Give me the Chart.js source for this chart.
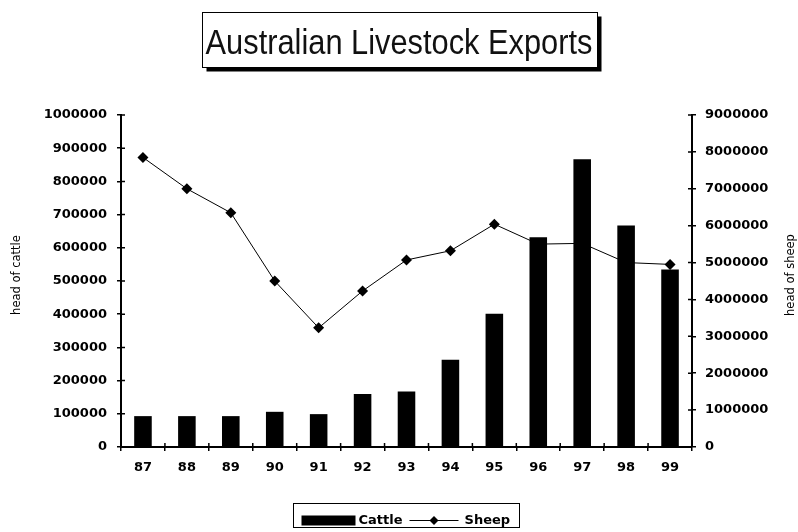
<!DOCTYPE html>
<html>
<head>
<meta charset="utf-8">
<script src="https://cdn.jsdelivr.net/npm/chart.js@4/dist/chart.umd.min.js"></script>
<style>
  html, body { margin: 0; padding: 0; background: #fff; }
  #wrap { width: 798px; height: 532px; }
</style>
</head>
<body>
<div id="wrap"><canvas id="c" width="798" height="532"></canvas></div>
<script>
// Export years (1987-1999)
const years = ['87', '88', '89', '90', '91', '92', '93', '94', '95', '96', '97', '98', '99'];
// Head of cattle exported each year
const cattle = [93000, 93000, 93000, 106000, 99000, 160000, 167000, 263000, 401000, 632000, 867000, 667000, 535000];
// Head of sheep exported each year
const sheep = [7850000, 7000000, 6350000, 4500000, 3230000, 4230000, 5070000, 5320000, 6040000, 5500000, 5520000, 5000000, 4950000];

const chartTitle = 'Australian Livestock Exports';
const cattleAxisTitle = 'head of cattle';
const sheepAxisTitle = 'head of sheep';
const cattleAxis = { max: 1000000, step: 100000 };
const sheepAxis = { max: 9000000, step: 1000000 };

const tickFont = { family: 'DejaVu Sans', size: 13, weight: 'bold' };

// Title box, axis titles, inward tick marks and the boxed legend
const decor = {
  id: 'decor',
  afterDraw(chart) {
    const ctx = chart.ctx;
    const area = chart.chartArea;
    ctx.save();

    // boxed title with drop shadow; the face is slightly condensed
    const squeeze = 0.88;
    ctx.font = '35px "Liberation Sans", Arial, sans-serif';
    const tw = ctx.measureText(chartTitle).width * squeeze;
    const cx = chart.width / 2;
    const bw = Math.round(tw + 8), bh = 55;
    const bx = Math.round(cx - bw / 2) + 0.5, by = 12.5;
    ctx.fillStyle = '#000';
    ctx.fillRect(bx + 4, by + 4, bw, bh);
    ctx.fillStyle = '#fff';
    ctx.fillRect(bx, by, bw, bh);
    ctx.strokeStyle = '#000';
    ctx.lineWidth = 1;
    ctx.strokeRect(bx, by, bw, bh);
    ctx.fillStyle = '#111';
    ctx.textAlign = 'center';
    ctx.textBaseline = 'alphabetic';
    ctx.save();
    ctx.translate(cx, 54);
    ctx.scale(squeeze, 1);
    ctx.fillText(chartTitle, 0, 0);
    ctx.restore();

    // inward halves of the tick marks
    ctx.strokeStyle = '#000';
    ctx.lineWidth = 1.5;
    const y = chart.scales.y, y1 = chart.scales.y1, x = chart.scales.x;
    ctx.beginPath();
    y.ticks.forEach((t, i) => {
      const p = y.getPixelForTick(i);
      ctx.moveTo(area.left, p); ctx.lineTo(area.left + 4, p);
    });
    y1.ticks.forEach((t, i) => {
      const p = y1.getPixelForTick(i);
      ctx.moveTo(area.right, p); ctx.lineTo(area.right - 4, p);
    });
    const n = x.ticks.length;
    for (let i = 1; i < n; i++) {
      const p = (x.getPixelForTick(i - 1) + x.getPixelForTick(i)) / 2;
      ctx.moveTo(p, area.bottom); ctx.lineTo(p, area.bottom - 4);
    }
    ctx.stroke();

    // axis titles, both reading bottom to top
    ctx.fillStyle = '#000';
    ctx.font = '11.5px "DejaVu Sans", sans-serif';
    ctx.textAlign = 'center';
    ctx.textBaseline = 'middle';
    const midY = (area.top + area.bottom) / 2 - 6;
    ctx.save();
    ctx.translate(17.5, midY);
    ctx.rotate(-Math.PI / 2);
    ctx.fillText(cattleAxisTitle, 0, 0);
    ctx.restore();
    ctx.save();
    ctx.translate(791.5, midY);
    ctx.rotate(-Math.PI / 2);
    ctx.fillText(sheepAxisTitle, 0, 0);
    ctx.restore();

    // legend
    const ds = chart.data.datasets;
    ctx.font = 'bold 13px "DejaVu Sans", sans-serif';
    ctx.textAlign = 'left';
    ctx.textBaseline = 'middle';
    const ly = 520.5;
    const w0 = ctx.measureText(ds[0].label).width;
    const w1 = ctx.measureText(ds[1].label).width;
    const swatchW = 54, lineW = 49;
    const total = 8 + swatchW + 3 + w0 + 7 + lineW + 6 + w1 + 9;
    const lx = Math.round(405.5 - total / 2) + 0.5;
    ctx.lineWidth = 1;
    ctx.strokeStyle = '#000';
    ctx.strokeRect(lx, 503.5, Math.round(total), 24);
    let px = lx + 8;
    ctx.fillStyle = '#000';
    ctx.fillRect(px, ly - 5, swatchW, 10);
    px += swatchW + 3;
    ctx.fillText(ds[0].label, px, ly);
    px += w0 + 7;
    ctx.beginPath();
    ctx.moveTo(px, ly); ctx.lineTo(px + lineW, ly);
    ctx.stroke();
    const dx = px + lineW / 2, r = 4.5;
    ctx.beginPath();
    ctx.moveTo(dx, ly - r); ctx.lineTo(dx + r, ly); ctx.lineTo(dx, ly + r); ctx.lineTo(dx - r, ly);
    ctx.closePath();
    ctx.fill();
    px += lineW + 6;
    ctx.fillText(ds[1].label, px, ly);

    ctx.restore();
  }
};

new Chart(document.getElementById('c'), {
  data: {
    labels: years,
    datasets: [
      {
        type: 'bar',
        label: 'Cattle',
        data: cattle,
        yAxisID: 'y',
        backgroundColor: '#000',
        borderWidth: 0,
        barPercentage: 0.4,
        categoryPercentage: 1.0,
        order: 0
      },
      {
        type: 'line',
        label: 'Sheep',
        data: sheep,
        yAxisID: 'y1',
        borderColor: '#000',
        borderWidth: 1,
        backgroundColor: '#000',
        pointStyle: 'rectRot',
        pointRadius: 5.5,
        pointBackgroundColor: '#000',
        pointBorderWidth: 0,
        tension: 0,
        order: 1
      }
    ]
  },
  options: {
    responsive: false,
    animation: false,
    devicePixelRatio: 1,
    layout: { padding: { top: 115, bottom: 0, left: 0, right: 0 } },
    plugins: {
      legend: { display: false },
      title: { display: false },
      tooltip: { enabled: false }
    },
    scales: {
      x: {
        grid: { drawOnChartArea: false, drawTicks: true, tickLength: 4, color: '#000', lineWidth: 1.5, offset: true },
        border: { color: '#000', width: 2 },
        ticks: { color: '#000', font: tickFont, padding: 9, maxRotation: 0 },
        afterFit(s) { s.height = 85; }
      },
      y: {
        position: 'left',
        min: 0,
        max: cattleAxis.max,
        grid: { drawOnChartArea: false, drawTicks: true, tickLength: 4, color: '#000', lineWidth: 1.5 },
        border: { color: '#000', width: 2 },
        ticks: { color: '#000', font: tickFont, padding: 10, stepSize: cattleAxis.step, callback: v => String(v) },
        afterFit(s) { s.width = 121; }
      },
      y1: {
        position: 'right',
        min: 0,
        max: sheepAxis.max,
        grid: { drawOnChartArea: false, drawTicks: true, tickLength: 4, color: '#000', lineWidth: 1.5 },
        border: { color: '#000', width: 2 },
        ticks: { color: '#000', font: tickFont, padding: 9, stepSize: sheepAxis.step, callback: v => String(v) },
        afterFit(s) { s.width = 106; }
      }
    }
  },
  plugins: [decor]
});
</script>
</body>
</html>
